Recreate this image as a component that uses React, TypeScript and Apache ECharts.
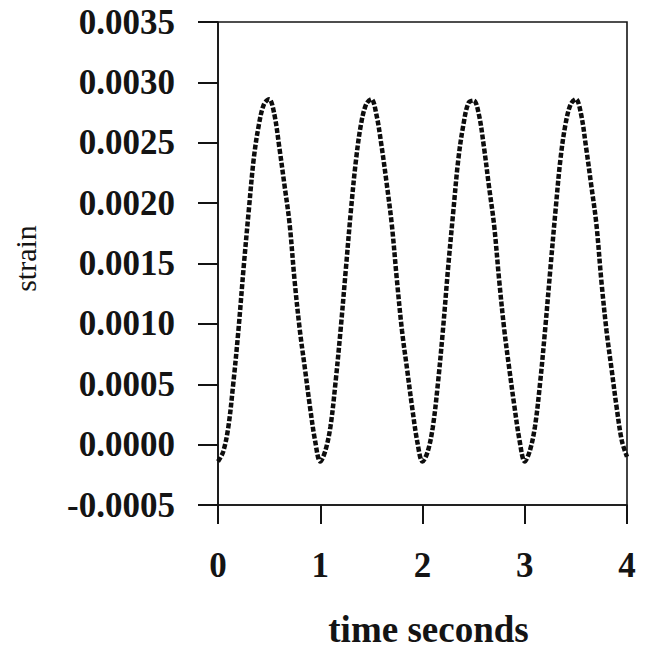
import React, { useEffect, useRef } from "react";
import * as echarts from "echarts";

const timeSeconds = [
  0.0, 0.05, 0.1, 0.15, 0.2, 0.25, 0.3, 0.35, 0.4, 0.45,
  0.5, 0.55, 0.6, 0.65, 0.7, 0.75, 0.8, 0.85, 0.9, 0.95,
  1.0, 1.05, 1.1, 1.15, 1.2, 1.25, 1.3, 1.35, 1.4, 1.45,
  1.5, 1.55, 1.6, 1.65, 1.7, 1.75, 1.8, 1.85, 1.9, 1.95,
  2.0, 2.05, 2.1, 2.15, 2.2, 2.25, 2.3, 2.35, 2.4, 2.45,
  2.5, 2.55, 2.6, 2.65, 2.7, 2.75, 2.8, 2.85, 2.9, 2.95,
  3.0, 3.05, 3.1, 3.15, 3.2, 3.25, 3.3, 3.35, 3.4, 3.45,
  3.5, 3.55, 3.6, 3.65, 3.7, 3.75, 3.8, 3.85, 3.9, 3.95,
  4.0,
];

const strainValues = [
  -0.00014, -0.00006, 0.00014, 0.00051, 0.00095, 0.00146, 0.00193, 0.00237, 0.00265, 0.00282,
  0.00286, 0.00274, 0.00246, 0.00215, 0.00183, 0.00135, 0.00095, 0.00063, 0.00031, 0.00003,
  -0.00014, -0.00005, 0.00015, 0.00052, 0.00096, 0.00145, 0.00194, 0.00236, 0.00266, 0.00282,
  0.00286, 0.00273, 0.00247, 0.00216, 0.00182, 0.00136, 0.00094, 0.00062, 0.00030, 0.00002,
  -0.00014, -0.00006, 0.00014, 0.00050, 0.00095, 0.00146, 0.00192, 0.00236, 0.00265, 0.00283,
  0.00285, 0.00274, 0.00247, 0.00214, 0.00182, 0.00136, 0.00095, 0.00062, 0.00031, 0.00003,
  -0.00014, -0.00005, 0.00015, 0.00051, 0.00096, 0.00145, 0.00193, 0.00237, 0.00266, 0.00282,
  0.00286, 0.00274, 0.00246, 0.00215, 0.00183, 0.00135, 0.00094, 0.00062, 0.00030, 0.00003,
  -0.00010,
];

const xTickLabels = ["0", "1", "2", "3", "4"];
const yTickLabels = [
  "-0.0005", "0.0000", "0.0005", "0.0010", "0.0015",
  "0.0020", "0.0025", "0.0030", "0.0035",
];
const yMin = -0.0005;
const yStep = 0.0005;

const serif = "'Liberation Serif', 'Times New Roman', serif";
const ink = "#141414";

export default function App() {
  const ref = useRef<HTMLDivElement>(null);

  useEffect(() => {
    if (!ref.current) return;
    const chart = echarts.init(ref.current, undefined, { renderer: "svg" });
    const data = timeSeconds.map((t, i) => [t, strainValues[i]]);
    chart.setOption({
      animation: false,
      backgroundColor: "#ffffff",
      grid: {
        left: 218,
        right: 27,
        top: 22,
        bottom: 145,
        show: true,
        borderColor: ink,
        borderWidth: 1.6,
      },
      xAxis: {
        type: "value",
        min: 0,
        max: 4,
        interval: 1,
        axisLine: { show: true, onZero: false, lineStyle: { color: ink, width: 1.6 } },
        axisTick: { show: true, inside: false, length: 19, lineStyle: { color: ink, width: 2 } },
        splitLine: { show: false },
        axisLabel: {
          color: ink,
          fontFamily: serif,
          fontWeight: "bold",
          fontSize: 35,
          margin: 43,
          formatter: (v: number) => xTickLabels[Math.round(v)] ?? String(v),
        },
        name: "time seconds",
        nameLocation: "middle",
        nameGap: 106,
        nameTextStyle: {
          color: ink,
          fontFamily: serif,
          fontWeight: "bold",
          fontSize: 37,
          padding: [0, 0, 0, 12],
        },
      },
      yAxis: {
        type: "value",
        min: -0.0005,
        max: 0.0035,
        interval: 0.0005,
        axisLine: { show: true, onZero: false, lineStyle: { color: ink, width: 1.6 } },
        axisTick: { show: true, inside: false, length: 20, lineStyle: { color: ink, width: 2 } },
        splitLine: { show: false },
        axisLabel: {
          color: ink,
          fontFamily: serif,
          fontWeight: "bold",
          fontSize: 35,
          margin: 43,
          formatter: (v: number) => {
            const idx = Math.round((v - yMin) / yStep);
            return yTickLabels[idx] ?? v.toFixed(4);
          },
        },
        name: "strain",
        nameLocation: "middle",
        nameGap: 178,
        nameTextStyle: {
          color: ink,
          fontFamily: serif,
          fontWeight: "normal",
          fontSize: 30,
          padding: [0, 0, 0, 10],
        },
      },
      series: [
        {
          type: "line",
          data,
          smooth: 0.35,
          showSymbol: false,
          clip: false,
          lineStyle: { color: "#0d0d0d", width: 4.5, type: [5, 2] },
        },
      ],
    });
    return () => chart.dispose();
  }, []);

  return (
    <div
      ref={ref}
      style={{ position: "fixed", left: 0, top: 0, width: 654, height: 653, background: "#fff" }}
    />
  );
}
